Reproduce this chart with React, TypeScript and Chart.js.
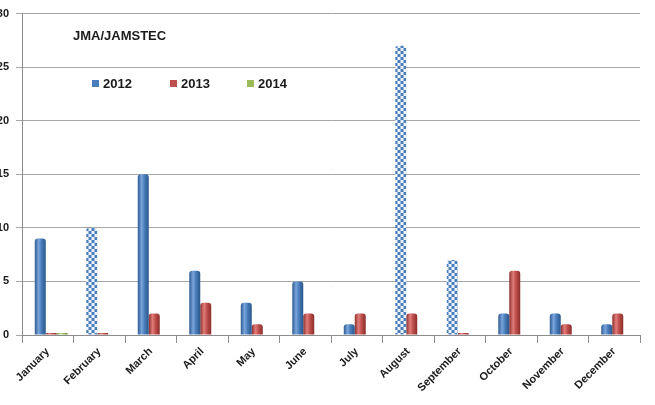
import React, { useEffect, useRef } from 'react';
import { Chart, registerables } from 'chart.js';

Chart.register(...registerables);

const months = ['January', 'February', 'March', 'April', 'May', 'June', 'July', 'August', 'September', 'October', 'November', 'December'];
const series2012 = [9, 10, 15, 6, 3, 5, 1, 27, 7, 2, 2, 1];
const series2013 = [0, 0, 2, 3, 1, 2, 2, 2, 0, 6, 1, 2];
const series2014: (number | null)[] = [0, null, null, null, null, null, null, null, null, null, null, null];
const checkered2012 = ['February', 'August', 'September'];
const seriesNames = ['2012', '2013', '2014'];
const yMin = 0;
const yMax = 30;
const yStep = 5;
const chartTitle = 'JMA/JAMSTEC';

const CAT_PCT = 0.64;
const FONT = "'Liberation Sans', Arial, sans-serif";

const palettes = [
  ['#2c5a91', '#7aa5dc', '#4a7ebb', '#2a568c'],
  ['#8e2f2c', '#e07d7a', '#c0504d', '#8a2d2a'],
  ['#6e8a3a', '#c3dc8f', '#9bbb59', '#6a8637'],
];

function makePattern(): CanvasPattern | string {
  const c = document.createElement('canvas');
  c.width = 6;
  c.height = 6;
  const g = c.getContext('2d');
  if (!g) return '#4a7ebb';
  g.fillStyle = '#eef3fb';
  g.fillRect(0, 0, 6, 6);
  g.fillStyle = '#4a7ebb';
  g.fillRect(0, 0, 3, 3);
  g.fillRect(3, 3, 3, 3);
  const p = g.createPattern(c, 'repeat');
  return p || '#4a7ebb';
}

export default function App() {
  const ref = useRef<HTMLCanvasElement | null>(null);

  useEffect(() => {
    if (!ref.current) return;
    const pattern = makePattern();

    const fill = (dsIndex: number) => (c: any) => {
      const stops = palettes[dsIndex];
      if (dsIndex === 0 && c.type === 'data' && checkered2012.includes(months[c.dataIndex])) return pattern;
      const chart = c.chart;
      const xs = chart.scales && chart.scales.x;
      if (c.type !== 'data' || !xs || !xs.width) return stops[2];
      const catW = xs.width / months.length;
      const groupW = catW * CAT_PCT;
      const barW = groupW / 3;
      const left = xs.getPixelForValue(c.dataIndex) - groupW / 2 + dsIndex * barW;
      const g = chart.ctx.createLinearGradient(left, 0, left + barW, 0);
      g.addColorStop(0, stops[0]);
      g.addColorStop(0.35, stops[1]);
      g.addColorStop(0.6, stops[2]);
      g.addColorStop(1, stops[3]);
      return g;
    };

    const depthShift = {
      id: 'depthShift',
      beforeDatasetsDraw(chart: any) {
        chart.ctx.save();
        chart.ctx.translate(3.5, 0);
      },
      afterDatasetsDraw(chart: any) {
        chart.ctx.restore();
      },
    };

    const overlay = {
      id: 'overlay',
      afterDraw(chart: any) {
        const ctx = chart.ctx;
        ctx.save();
        ctx.fillStyle = '#1a1a1a';
        ctx.font = `bold 13px ${FONT}`;
        ctx.textBaseline = 'middle';
        ctx.textAlign = 'left';
        ctx.fillText(chartTitle, 93, 36);
        const sx = [112, 190, 267];
        seriesNames.forEach((name, i) => {
          ctx.fillStyle = palettes[i][2];
          ctx.fillRect(sx[i], 80, 7, 7);
          ctx.fillStyle = '#1a1a1a';
          ctx.fillText(name, sx[i] + 11, 84);
        });
        ctx.restore();
      },
    };

    const data = [series2012, series2013, series2014];
    const chart = new Chart(ref.current, {
      type: 'bar',
      data: {
        labels: months,
        datasets: data.map((d, i) => ({
          label: seriesNames[i],
          data: d,
          backgroundColor: fill(i),
          borderWidth: 0,
          borderRadius: { topLeft: 3, topRight: 3, bottomLeft: 0, bottomRight: 0 },
          borderSkipped: 'bottom',
          minBarLength: 2,
          categoryPercentage: CAT_PCT,
          barPercentage: 1,
        })),
      },
      options: {
        responsive: false,
        animation: false,
        layout: { padding: { top: 11, right: 15, left: 0, bottom: 0 } },
        plugins: {
          legend: { display: false },
          title: { display: false },
          tooltip: { enabled: false },
        },
        scales: {
          x: {
            afterFit: (s: any) => { s.height = 70; },
            grid: { display: true, drawOnChartArea: false, offset: true, tickLength: 8, color: '#8c8c8c' },
            border: { display: true, color: '#8c8c8c' },
            ticks: {
              minRotation: 45,
              maxRotation: 45,
              autoSkip: false,
              padding: 2,
              color: '#1a1a1a',
              font: { family: FONT, size: 11, weight: 'bold' },
            },
          },
          y: {
            min: yMin,
            max: yMax,
            afterFit: (s: any) => { s.width = 42; },
            ticks: {
              stepSize: yStep,
              padding: 7,
              color: '#1a1a1a',
              font: { family: FONT, size: 11, weight: 'bold' },
            },
            grid: { color: '#a6a6a6', tickLength: 6 },
            border: { display: true, color: '#8c8c8c' },
          },
        },
      },
      plugins: [depthShift, overlay],
    } as any);
    return () => chart.destroy();
  }, []);

  return (
    <div style={{ position: 'fixed', left: 0, top: 0, width: 655, height: 405, overflow: 'hidden', background: '#fff' }}>
      <canvas ref={ref} width={675} height={405} style={{ position: 'absolute', left: -20, top: 0, width: 675, height: 405 }} />
    </div>
  );
}
